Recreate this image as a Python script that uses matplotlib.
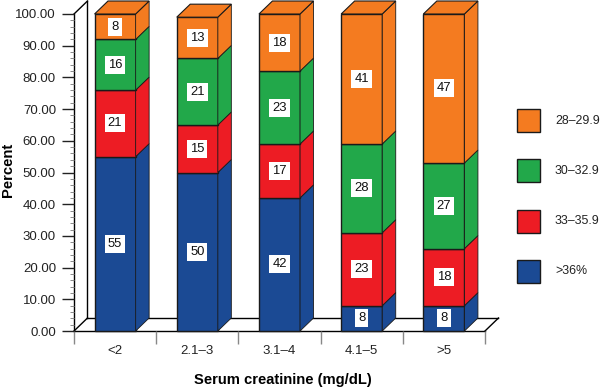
import numpy as np
import matplotlib
matplotlib.use('Agg')
import matplotlib.pyplot as plt
from matplotlib.patches import Polygon, Rectangle

plt.rcParams['font.family'] = ['Liberation Sans', 'DejaVu Sans']

categories = ['<2', '2.1–3', '3.1–4', '4.1–5', '>5']
blue_vals = [55, 50, 42, 8, 8]
red_vals = [21, 15, 17, 23, 18]
green_vals = [16, 21, 23, 28, 27]
orange_vals = [8, 13, 18, 41, 47]
y_ticks = [0, 10, 20, 30, 40, 50, 60, 70, 80, 90, 100]
legend_labels = ['28–29.9', '30–32.9', '33–35.9', '>36%']

blue = '#1B4A94'
red = '#ED1C24'
green = '#22A84A'
orange = '#F47B20'
edge = '#1a1a1a'

# depth of the fake 3d, in data units
dx = 0.164
dy = 4.1
bar_w = 0.5

fig = plt.figure(figsize=(6, 3.88), dpi=100)
ax = fig.add_axes([74 / 600, 57 / 388, 411 / 600, 317 / 388])
ax.set_xlim(0, 5)
ax.set_ylim(0, 100)
for s in ax.spines.values():
    s.set_visible(False)
ax.patch.set_alpha(0)

# wall and floor
ax.plot([0, 0], [0, 100], color='black', lw=1, clip_on=False, zorder=1)
ax.plot([dx, dx], [dy, 100 + dy], color='black', lw=1, clip_on=False, zorder=1)
ax.plot([0, dx], [100, 100 + dy], color='black', lw=1, clip_on=False, zorder=1)
ax.plot([0, dx], [0, dy], color='black', lw=1, clip_on=False, zorder=1)
ax.plot([0, 5], [0, 0], color='black', lw=1, clip_on=False, zorder=1)
ax.plot([dx, 5 + dx], [dy, dy], color='black', lw=1, clip_on=False, zorder=1)
ax.plot([5, 5 + dx], [0, dy], color='black', lw=1, clip_on=False, zorder=1)

# bars
series = [(blue_vals, blue), (red_vals, red), (green_vals, green), (orange_vals, orange)]
bottom = np.zeros(len(categories))
for vals, col in series:
    for i, v in enumerate(vals):
        x0 = i + 0.5 - bar_w / 2
        x1 = x0 + bar_w
        b = bottom[i]
        t = b + v
        ax.add_patch(Rectangle((x0, b), bar_w, v, fc=col, ec=edge, lw=1, clip_on=False, zorder=3 + i))
        ax.add_patch(Polygon([(x1, b), (x1 + dx, b + dy), (x1 + dx, t + dy), (x1, t)],
                             fc=col, ec=edge, lw=0.6, clip_on=False, zorder=3 + i))
        if col == orange:
            ax.add_patch(Polygon([(x0, t), (x0 + dx, t + dy), (x1 + dx, t + dy), (x1, t)],
                                 fc=col, ec=edge, lw=0.8, clip_on=False, zorder=3 + i))
        ax.text(i + 0.5, b + v / 2, str(v), ha='center', va='center', fontsize=9.4, color='#111111',
                bbox=dict(fc='white', ec='none', pad=2.2), zorder=20)
    bottom = bottom + np.array(vals)

# axes ticks
ax.set_yticks(y_ticks)
ax.set_yticklabels(['%.2f' % v for v in y_ticks], fontsize=9.5, color='#222222')
ax.set_yticks(np.arange(0, 101, 2), minor=True)
ax.tick_params(axis='y', which='major', length=9, width=1, color='#222222', pad=4)
ax.tick_params(axis='y', which='minor', length=3, width=0.7, color='#888888')
ax.set_xticks(range(6))
ax.set_xticklabels([])
ax.tick_params(axis='x', which='major', length=9, width=1, color='#888888')
for i, c in enumerate(categories):
    ax.text(i + 0.5, -6.2, c, ha='center', va='center', fontsize=9.5, color='#222222')

fig.text(283 / 600, 1 - 380 / 388, 'Serum creatinine (mg/dL)', ha='center', va='center',
         fontsize=10.6, fontweight='bold')
fig.text(8 / 600, 1 - 170 / 388, 'Percent', rotation=90, ha='center', va='center',
         fontsize=10.6, fontweight='bold')

# legend, top to bottom
legend_cols = [orange, green, red, blue]
legend_y = [109, 159, 210, 260]
for lab, col, y in zip(legend_labels, legend_cols, legend_y):
    fig.patches.append(Rectangle((517 / 600, 1 - (y + 23) / 388), 23 / 600, 23 / 388, fc=col, ec=edge,
                                 lw=1, transform=fig.transFigure))
    fig.text(555 / 600, 1 - (y + 11.5) / 388, lab, ha='left', va='center', fontsize=8.9, color='#222222')

fig.savefig('out.png', dpi=100)
